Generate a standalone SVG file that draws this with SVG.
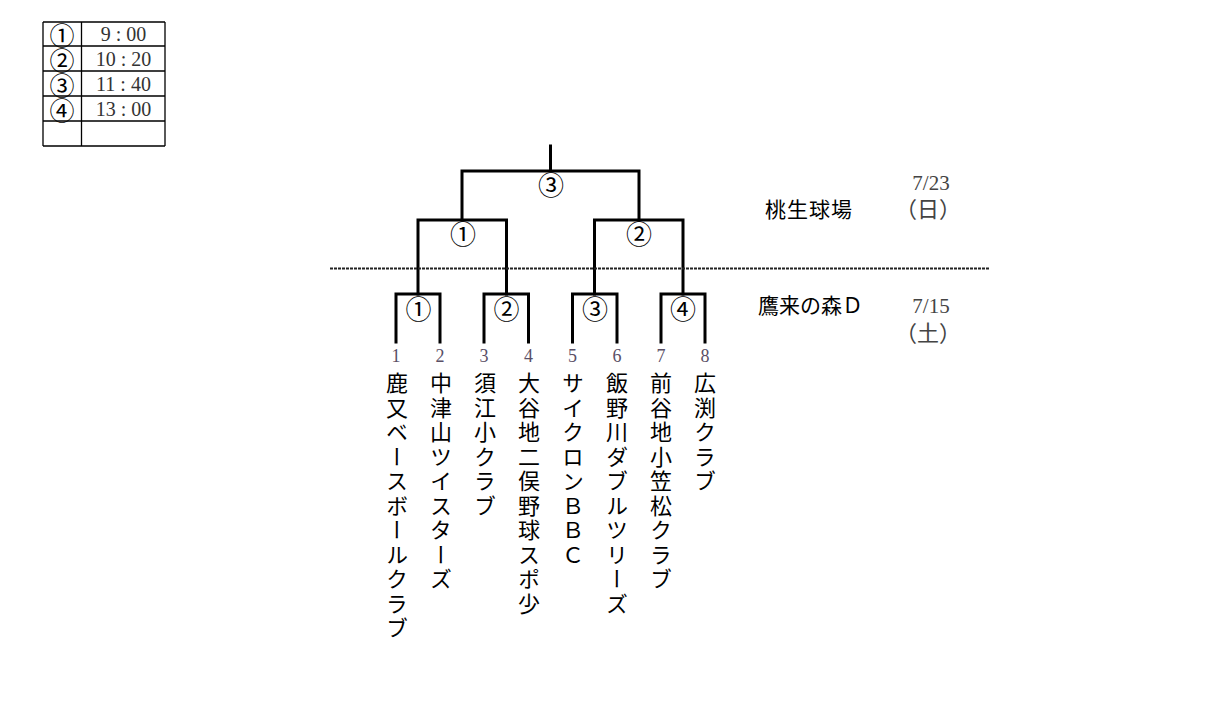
<svg xmlns="http://www.w3.org/2000/svg" width="1213" height="728" viewBox="0 0 1213 728">
<style>
.ln{stroke:#000;stroke-width:3;fill:none;stroke-linecap:square}
.tb{stroke:#000;stroke-width:1.3;fill:none}
.cn{font-family:"Noto Sans CJK JP",sans-serif;font-size:26px;text-anchor:middle;dominant-baseline:central;fill:#000}
.ct{font-family:"Noto Sans CJK JP",sans-serif;font-size:25px;text-anchor:middle;dominant-baseline:central;fill:#000}
.tm{font-family:"Liberation Serif",serif;font-size:20px;text-anchor:middle;dominant-baseline:central;fill:#333}
.num{font-family:"Liberation Serif",serif;font-size:18px;text-anchor:middle;fill:#5a4f66}
.team{font-family:"Noto Sans CJK JP",sans-serif;font-size:22px;writing-mode:vertical-rl;letter-spacing:2.5px;fill:#000}
.lbl{font-family:"Noto Sans CJK JP",sans-serif;font-size:21px;dominant-baseline:central;fill:#000}
.dt{font-family:"Liberation Serif",serif;font-size:21px;text-anchor:middle;dominant-baseline:central;fill:#444}
.dw{font-family:"Noto Sans CJK JP",sans-serif;font-size:22px;text-anchor:middle;dominant-baseline:central;fill:#444}
</style>
<rect width="1213" height="728" fill="#fff"/>
<g id="schedule">
<path class="tb" d="M43,22H165M43,46H165M43,71H165M43,96H165M43,121H165M43,146H165M43,22V146M81.5,22V146M165,22V146"/>
<text class="ct" x="62" y="34">①</text>
<text class="ct" x="62" y="58.5">②</text>
<text class="ct" x="62" y="83.5">③</text>
<text class="ct" x="62" y="108.5">④</text>
<text class="tm" x="123.5" y="34">9 : 00</text>
<text class="tm" x="123.5" y="58.5">10 : 20</text>
<text class="tm" x="123.5" y="83.5">11 : 40</text>
<text class="tm" x="123.5" y="108.5">13 : 00</text>
</g>
<g id="connectors">
<path class="ln" d="M550.5,146V171M462,220V171H639V220"/>
<path class="ln" d="M418,294V220H506.5V294M594.5,294V220H683V294"/>
<path class="ln" d="M396,342V294H440V342M484,342V294H528.5V342M572.5,342V294H617V342M661,342V294H705V342"/>
<line x1="330" y1="268.5" x2="990" y2="268.5" stroke="#222" stroke-width="2" stroke-dasharray="3,1"/>
</g>
<g id="final"><text class="cn" x="551" y="183">③</text></g>
<g id="semi1"><text class="cn" x="463" y="232">①</text></g>
<g id="semi2"><text class="cn" x="639" y="232">②</text></g>
<g id="r1m1"><text class="cn" x="418.5" y="307">①</text></g>
<g id="r1m2"><text class="cn" x="506.5" y="307">②</text></g>
<g id="r1m3"><text class="cn" x="595" y="307">③</text></g>
<g id="r1m4"><text class="cn" x="683" y="307">④</text></g>
<g id="team1"><text class="num" x="396" y="362">1</text><text class="team" x="397" y="372">鹿又ベースボールクラブ</text></g>
<g id="team2"><text class="num" x="440" y="362">2</text><text class="team" x="441" y="372">中津山ツイスターズ</text></g>
<g id="team3"><text class="num" x="484" y="362">3</text><text class="team" x="485" y="372">須江小クラブ</text></g>
<g id="team4"><text class="num" x="528.5" y="362">4</text><text class="team" x="529" y="372">大谷地二俣野球スポ少</text></g>
<g id="team5"><text class="num" x="572.5" y="362">5</text><text class="team" x="573" y="372">サイクロンＢＢＣ</text></g>
<g id="team6"><text class="num" x="617" y="362">6</text><text class="team" x="617" y="372">飯野川ダブルツリーズ</text></g>
<g id="team7"><text class="num" x="661" y="362">7</text><text class="team" x="661" y="372">前谷地小笠松クラブ</text></g>
<g id="team8"><text class="num" x="705" y="362">8</text><text class="team" x="705" y="372">広渕クラブ</text></g>
<g id="venue-top">
<text class="lbl" x="765" y="208" style="letter-spacing:1px">桃生球場</text>
<text class="dt" x="931" y="183">7/23</text>
<text class="dw" x="928" y="207">（日）</text>
</g>
<g id="venue-bottom">
<text class="lbl" x="758" y="304">鷹来の森Ｄ</text>
<text class="dt" x="931" y="306">7/15</text>
<text class="dw" x="928" y="331">（土）</text>
</g>
</svg>
